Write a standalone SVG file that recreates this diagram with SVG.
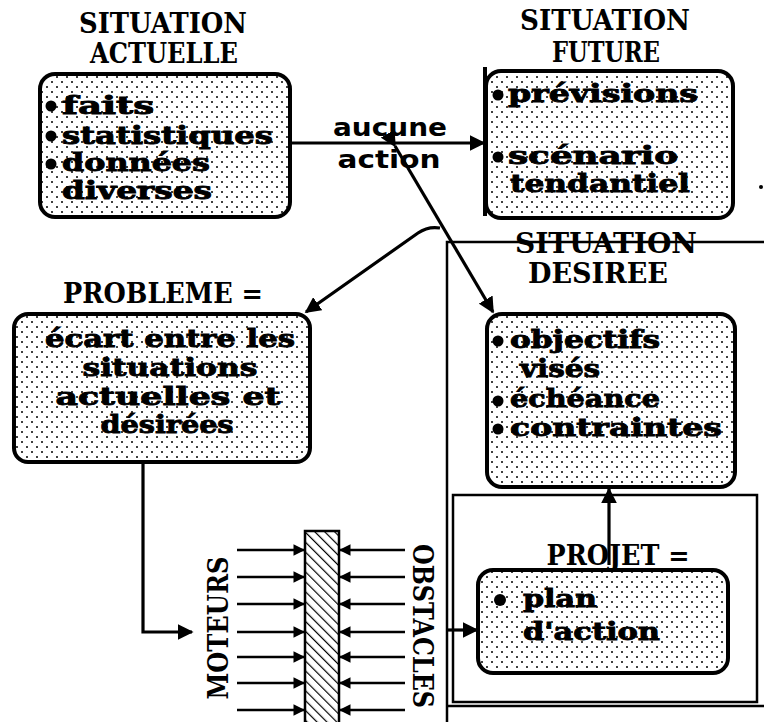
<svg xmlns="http://www.w3.org/2000/svg" width="764" height="722" viewBox="0 0 764 722">
  <style>
    .head { font-family: "DejaVu Serif", "Liberation Serif", serif; font-weight: bold; font-size: 27px; fill: #000; }
    .item { font-family: "DejaVu Serif", "Liberation Serif", serif; font-weight: bold; font-size: 25px; fill: #000; stroke: #000; stroke-width: 0.9px; }
    .lbl { font-family: "DejaVu Sans", "Liberation Sans", sans-serif; font-weight: bold; font-size: 25px; fill: #000; }
    .box { fill: url(#dots); stroke: #000; stroke-width: 4; }
    .frame { fill: none; stroke: #000; stroke-width: 2.5; }
    .line { fill: none; stroke: #000; stroke-width: 3.2; }
    .thin { fill: none; stroke: #000; stroke-width: 2.6; }
  </style>
  <defs>
    <pattern id="dots" width="10" height="10" patternUnits="userSpaceOnUse">
      <rect width="10" height="10" fill="#fff"/>
      <circle cx="2" cy="2" r="1" fill="#000"/>
      <circle cx="7" cy="7" r="1" fill="#000"/>
    </pattern>
    <pattern id="hatch" width="7" height="7" patternUnits="userSpaceOnUse" patternTransform="rotate(-45)">
      <rect width="7" height="7" fill="#fff"/>
      <line x1="0" y1="0" x2="0" y2="7" stroke="#000" stroke-width="2.4"/>
    </pattern>
    <marker id="arrow" viewBox="0 0 10 10" refX="9" refY="5" markerWidth="5" markerHeight="5" orient="auto" markerUnits="strokeWidth">
      <path d="M0,0 L10,5 L0,10 Z" fill="#000"/>
    </marker>
    <marker id="tick" viewBox="0 0 10 10" refX="9" refY="5" markerWidth="4.5" markerHeight="4.5" orient="auto" markerUnits="strokeWidth">
      <path d="M0,0 L10,5 L0,10 Z" fill="#000"/>
    </marker>
  </defs>

  <!-- outer frame around the desired situation and the project -->
  <g id="frame-desiree">
    <path class="frame" d="M447,722 L447,242 L764,242"/>
    <path class="frame" d="M447,706 L764,706"/>
  </g>

  <!-- project frame -->
  <g id="frame-projet">
    <rect class="frame" x="453" y="495" width="304" height="207" stroke-width="2"/>
  </g>

  <!-- current situation -->
  <g id="situation-actuelle">
    <text class="head" x="163" y="33" text-anchor="middle" textLength="168" lengthAdjust="spacingAndGlyphs">SITUATION</text>
    <text class="head" x="164" y="63" text-anchor="middle" textLength="148" lengthAdjust="spacingAndGlyphs">ACTUELLE</text>
    <rect class="box" x="40" y="74" width="250" height="143" rx="15"/>
    <circle cx="51" cy="106" r="5.5"/>
    <text class="item" x="62" y="114" textLength="92" lengthAdjust="spacingAndGlyphs">faits</text>
    <circle cx="51" cy="136" r="5.5"/>
    <text class="item" x="62" y="144" textLength="211" lengthAdjust="spacingAndGlyphs">statistiques</text>
    <circle cx="51" cy="164" r="5.5"/>
    <text class="item" x="62" y="171" textLength="148" lengthAdjust="spacingAndGlyphs">données</text>
    <text class="item" x="62" y="199" textLength="150" lengthAdjust="spacingAndGlyphs">diverses</text>
  </g>

  <!-- future situation -->
  <g id="situation-future">
    <text class="head" x="605" y="30" text-anchor="middle" textLength="170" lengthAdjust="spacingAndGlyphs">SITUATION</text>
    <text class="head" x="606" y="62" text-anchor="middle" textLength="108" lengthAdjust="spacingAndGlyphs">FUTURE</text>
    <rect class="box" x="486" y="71" width="247" height="147" rx="15"/>
    <line x1="485" y1="67" x2="485" y2="216" stroke="#000" stroke-width="4"/>
    <circle cx="498" cy="95" r="5.5"/>
    <text class="item" x="508" y="102" textLength="190" lengthAdjust="spacingAndGlyphs">prévisions</text>
    <circle cx="498" cy="157" r="5.5"/>
    <text class="item" x="508" y="164" textLength="170" lengthAdjust="spacingAndGlyphs">scénario</text>
    <text class="item" x="510" y="192" textLength="180" lengthAdjust="spacingAndGlyphs">tendantiel</text>
  </g>
  <circle cx="761" cy="187" r="2"/>

  <!-- problem -->
  <g id="probleme">
    <text class="head" x="163" y="303" text-anchor="middle" textLength="200" lengthAdjust="spacingAndGlyphs">PROBLEME =</text>
    <rect class="box" x="14" y="314" width="296" height="148" rx="14"/>
    <text class="item" x="170" y="347" text-anchor="middle" textLength="250" lengthAdjust="spacingAndGlyphs">écart entre les</text>
    <text class="item" x="170" y="376" text-anchor="middle" textLength="175" lengthAdjust="spacingAndGlyphs">situations</text>
    <text class="item" x="168" y="405" text-anchor="middle" textLength="225" lengthAdjust="spacingAndGlyphs">actuelles et</text>
    <text class="item" x="167" y="433" text-anchor="middle" textLength="133" lengthAdjust="spacingAndGlyphs">désirées</text>
  </g>

  <!-- desired situation -->
  <g id="situation-desiree">
    <text class="head" x="606" y="253" text-anchor="middle" textLength="182" lengthAdjust="spacingAndGlyphs">SITUATION</text>
    <text class="head" x="598" y="283" text-anchor="middle" textLength="140" lengthAdjust="spacingAndGlyphs">DESIREE</text>
    <rect class="box" x="487" y="314" width="248" height="173" rx="15"/>
    <circle cx="498" cy="341" r="5.5"/>
    <text class="item" x="510" y="348" textLength="150" lengthAdjust="spacingAndGlyphs">objectifs</text>
    <text class="item" x="520" y="377" textLength="80" lengthAdjust="spacingAndGlyphs">visés</text>
    <circle cx="498" cy="401" r="5.5"/>
    <text class="item" x="510" y="407" textLength="150" lengthAdjust="spacingAndGlyphs">échéance</text>
    <circle cx="498" cy="429" r="5.5"/>
    <text class="item" x="510" y="436" textLength="212" lengthAdjust="spacingAndGlyphs">contraintes</text>
  </g>

  <!-- project -->
  <g id="projet">
    <text class="head" x="618" y="565" text-anchor="middle" textLength="143" lengthAdjust="spacingAndGlyphs">PROJET =</text>
    <rect class="box" x="478" y="570" width="250" height="103" rx="15"/>
    <circle cx="500" cy="600" r="6"/>
    <text class="item" x="523" y="607" textLength="74" lengthAdjust="spacingAndGlyphs">plan</text>
    <text class="item" x="523" y="640" textLength="137" lengthAdjust="spacingAndGlyphs">d'action</text>
  </g>

  <!-- driving forces and obstacles -->
  <g id="forces">
    <rect x="305" y="531" width="34" height="193" fill="url(#hatch)" stroke="#000" stroke-width="2.5"/>
    <text class="head" transform="translate(228,628) rotate(-90)" text-anchor="middle" font-size="31" textLength="143" lengthAdjust="spacingAndGlyphs">MOTEURS</text>
    <text class="head" transform="translate(413,626) rotate(90)" text-anchor="middle" font-size="24" textLength="164" lengthAdjust="spacingAndGlyphs">OBSTACLES</text>
  </g>

  <!-- connectors -->
  <g id="connectors">
    <line class="line" x1="290" y1="143" x2="484" y2="143" marker-end="url(#arrow)"/>
    <path class="line" d="M395,146 L493,312" marker-start="url(#arrow)" marker-end="url(#arrow)"/>
    <path class="line" d="M440,228 Q428,226 418,233 L306,312" marker-end="url(#arrow)"/>
    <path class="line" d="M143,462 L143,632 L192,632" marker-end="url(#arrow)"/>
    <line class="line" x1="609" y1="565" x2="609" y2="489" marker-end="url(#arrow)"/>
    <line class="line" x1="447" y1="630" x2="477" y2="630" marker-end="url(#arrow)"/>
    <g class="thin">
      <line x1="237" y1="550" x2="304" y2="550" marker-end="url(#tick)"/>
      <line x1="237" y1="577" x2="304" y2="577" marker-end="url(#tick)"/>
      <line x1="237" y1="604" x2="304" y2="604" marker-end="url(#tick)"/>
      <line x1="237" y1="632" x2="304" y2="632" marker-end="url(#tick)"/>
      <line x1="237" y1="657" x2="304" y2="657" marker-end="url(#tick)"/>
      <line x1="237" y1="683" x2="304" y2="683" marker-end="url(#tick)"/>
      <line x1="237" y1="710" x2="304" y2="710" marker-end="url(#tick)"/>
      <line x1="405" y1="550" x2="340" y2="550" marker-end="url(#tick)"/>
      <line x1="405" y1="577" x2="340" y2="577" marker-end="url(#tick)"/>
      <line x1="405" y1="604" x2="340" y2="604" marker-end="url(#tick)"/>
      <line x1="405" y1="632" x2="340" y2="632" marker-end="url(#tick)"/>
      <line x1="405" y1="657" x2="340" y2="657" marker-end="url(#tick)"/>
      <line x1="405" y1="683" x2="340" y2="683" marker-end="url(#tick)"/>
      <line x1="405" y1="710" x2="340" y2="710" marker-end="url(#tick)"/>
    </g>
    <text class="lbl" x="390" y="136" text-anchor="middle" textLength="114" lengthAdjust="spacingAndGlyphs">aucune</text>
    <text class="lbl" x="389" y="168" text-anchor="middle" textLength="103" lengthAdjust="spacingAndGlyphs">action</text>
  </g>
</svg>
